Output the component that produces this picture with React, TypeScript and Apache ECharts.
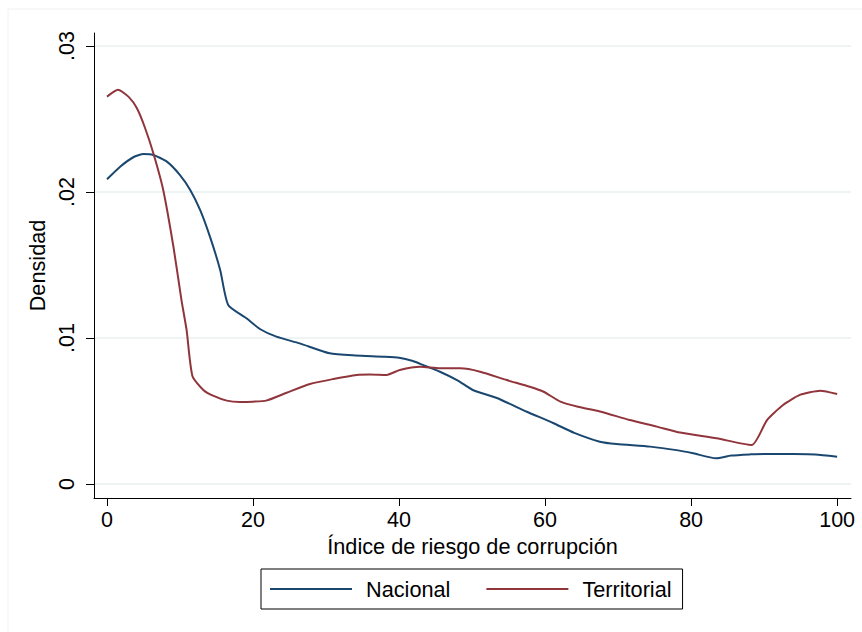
import React, { useEffect, useRef } from "react";
import * as echarts from "echarts";

// Kernel density estimates
const nacionalX = [0, 1.8, 3.6, 5, 6.35, 8.2, 10, 11.4, 12.75, 14.1, 15.5, 16.6, 19.1, 21, 23.2, 26.4, 30.5, 34, 37.8, 40, 41.9, 43.5, 45.6, 48, 50.1, 53.4, 57.5, 61.1, 64, 67.5, 69.8, 74.4, 78, 80.3, 83.4, 85.5, 88.1, 90, 93.6, 97, 100];
const nacionalY = [0.02087, 0.02173, 0.02238, 0.0226, 0.02253, 0.02208, 0.02116, 0.02014, 0.01877, 0.01694, 0.01466, 0.01226, 0.01135, 0.0106, 0.01009, 0.00963, 0.00895, 0.0088, 0.00872, 0.00865, 0.00842, 0.0081, 0.00769, 0.0071, 0.00644, 0.00589, 0.00495, 0.00418, 0.0035, 0.0029, 0.00274, 0.00256, 0.00232, 0.0021, 0.00176, 0.00195, 0.00203, 0.00206, 0.00205, 0.00202, 0.00187];

const territorialX = [0, 1.5, 3, 4.1, 5.2, 6.35, 7.7, 9.1, 10.2, 10.9, 11.7, 13.2, 14.6, 16.4, 18.2, 20, 21.8, 24.6, 27.8, 31, 34.2, 36, 38.3, 40.1, 42.9, 45.6, 48.4, 51.1, 54.75, 57.9, 59.8, 62.1, 64.5, 67.5, 71.6, 75.3, 78.5, 83.5, 88.3, 90.4, 92.6, 94.9, 97.7, 100];
const territorialY = [0.02653, 0.027, 0.0265, 0.02573, 0.0244, 0.02265, 0.02014, 0.01625, 0.0126, 0.01055, 0.0074, 0.00644, 0.00603, 0.00571, 0.00562, 0.00564, 0.00571, 0.00625, 0.00685, 0.00719, 0.00747, 0.0075, 0.00747, 0.00781, 0.00803, 0.00792, 0.00792, 0.00769, 0.00712, 0.00666, 0.00632, 0.00564, 0.00529, 0.00497, 0.00438, 0.00393, 0.00352, 0.00313, 0.00267, 0.00438, 0.00541, 0.0061, 0.00639, 0.00616];

const xTicks = [0, 20, 40, 60, 80, 100];
const yTicks = [0, 0.01, 0.02, 0.03];
const yTickLabels = ["0", ".01", ".02", ".03"];

const seriesNames = ["Nacional", "Territorial"];
const xTitle = "Índice de riesgo de corrupción";
const yTitle = "Densidad";

const FONT = "'Liberation Sans', Arial, Helvetica, sans-serif";

export default function App() {
  const ref = useRef<HTMLDivElement>(null);
  useEffect(() => {
    if (!ref.current) return;
    const chart = echarts.init(ref.current, null, { renderer: "svg" });
    const pair = (xs: number[], ys: number[]) => xs.map((x, i) => [x, ys[i]]);
    chart.setOption({
      animation: false,
      backgroundColor: "#ffffff",
      textStyle: { fontFamily: FONT },
      graphic: [
        {
          type: "rect",
          shape: { x: 8, y: 9, width: 880, height: 660 },
          style: { fill: "none", stroke: "#eef1f3", lineWidth: 1 },
          silent: true,
        },
      ],
      grid: { left: 94, right: 11, top: 33, bottom: 134, containLabel: false },
      legend: {
        data: seriesNames,
        left: 261,
        top: 569,
        orient: "horizontal",
        icon: "rect",
        itemWidth: 82,
        itemHeight: 2,
        itemGap: 36,
        borderColor: "#000",
        borderWidth: 1,
        borderRadius: 0,
        padding: [6, 11, 6, 9],
        textStyle: { fontSize: 21.7, color: "#000", fontFamily: FONT, padding: [0, 0, 0, 9], lineHeight: 28 },
      },
      xAxis: {
        type: "value",
        min: -1.78,
        max: 101.9,
        name: xTitle,
        nameLocation: "middle",
        nameGap: 31,
        nameTextStyle: { fontSize: 21.7, color: "#000", fontFamily: FONT },
        axisLine: { show: true, onZero: false, lineStyle: { color: "#000", width: 1 } },
        axisTick: { show: true, length: 8, lineStyle: { color: "#000" }, customValues: xTicks },
        axisLabel: { customValues: xTicks, fontSize: 21.5, color: "#000", margin: 11, fontFamily: FONT },
        splitLine: { show: false },
      },
      yAxis: {
        type: "value",
        min: -0.000959,
        max: 0.03089,
        name: yTitle,
        nameLocation: "middle",
        nameGap: 40,
        nameRotate: 90,
        nameTextStyle: { fontSize: 21.7, color: "#000", fontFamily: FONT },
        axisLine: { show: true, onZero: false, lineStyle: { color: "#000", width: 1 } },
        axisTick: { show: true, length: 8, lineStyle: { color: "#000" }, customValues: yTicks },
        axisLabel: {
          customValues: yTicks,
          rotate: 90,
          fontSize: 21.5,
          color: "#000",
          margin: 16,
          fontFamily: FONT,
          formatter: (v: number) => {
            const i = yTicks.findIndex((t) => Math.abs(t - v) < 1e-9);
            return i >= 0 ? yTickLabels[i] : "";
          },
        },
        splitLine: { show: true, lineStyle: { color: "#e8eff1", width: 1.5 } },
      },
      series: [
        {
          name: seriesNames[0],
          type: "line",
          data: pair(nacionalX, nacionalY),
          symbol: "none",
          smooth: 0.2,
          lineStyle: { color: "#1a476f", width: 2 },
          itemStyle: { color: "#1a476f" },
        },
        {
          name: seriesNames[1],
          type: "line",
          data: pair(territorialX, territorialY),
          symbol: "none",
          smooth: 0.2,
          lineStyle: { color: "#90353b", width: 2 },
          itemStyle: { color: "#90353b" },
        },
      ],
    });
    return () => chart.dispose();
  }, []);
  return <div ref={ref} style={{ position: "absolute", left: 0, top: 0, width: 862, height: 632 }} />;
}
